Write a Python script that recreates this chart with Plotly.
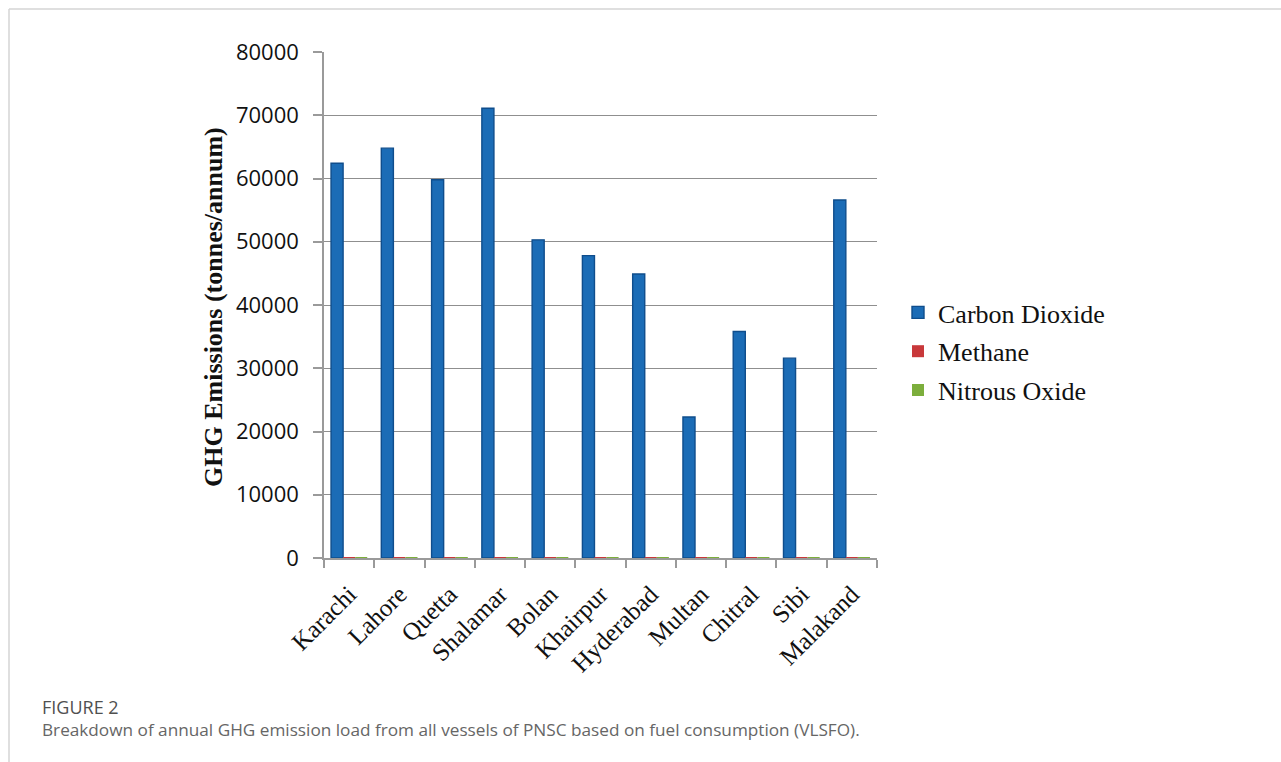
import plotly.graph_objects as go

categories = ["Karachi", "Lahore", "Quetta", "Shalamar", "Bolan", "Khairpur",
              "Hyderabad", "Multan", "Chitral", "Sibi", "Malakand"]
carbon_dioxide = [62400, 64800, 59800, 71100, 50300, 47800, 44900, 22300, 35800, 31600, 56600]
methane = [2.5, 2.6, 2.4, 2.8, 2.0, 1.9, 1.8, 0.9, 1.4, 1.3, 2.3]
nitrous_oxide = [3.2, 3.3, 3.1, 3.7, 2.6, 2.5, 2.3, 1.2, 1.9, 1.6, 2.9]
y_ticks = [0, 10000, 20000, 30000, 40000, 50000, 60000, 70000, 80000]

W, H = 1281, 762
L, R, T, B = 324, 877, 52, 558


def px(x):
    return (x - L) / (R - L)


def py(y):
    return (B - y) / (B - T)


fig = go.Figure()
fig.add_trace(go.Bar(name="Carbon Dioxide", x=categories, y=carbon_dioxide, legendgroup="a",
                     marker=dict(color="#1b6cb6", line=dict(color="#0f4d8c", width=1.4))))
fig.add_trace(go.Bar(name="Methane", x=categories, y=methane, legendgroup="b",
                     marker=dict(color="#c8383a", line=dict(color="#8e2022", width=0))))
fig.add_trace(go.Bar(name="Nitrous Oxide", x=categories, y=nitrous_oxide, legendgroup="c",
                     marker=dict(color="#7cae3c", line=dict(color="#557d25", width=0))))

serif = "Liberation Serif, Times New Roman, serif"
sans = "Open Sans, sans-serif"

fig.update_layout(
    width=W, height=H,
    margin=dict(l=L, r=W - R, t=T, b=H - B, autoexpand=False),
    paper_bgcolor="white", plot_bgcolor="white",
    barmode="group", bargap=0.28, bargroupgap=0,
    showlegend=True,
    legend=dict(x=px(898), y=py(289), xanchor="left", yanchor="top",
                font=dict(family=serif, size=26, color="#111"),
                bgcolor="rgba(0,0,0,0)", tracegroupgap=2, itemwidth=30,
                traceorder="grouped"),
    xaxis=dict(showgrid=False, showline=True, linecolor="#9a9a9a", linewidth=1.5,
               ticks="outside", tickson="boundaries", ticklen=8, tickcolor="#9a9a9a",
               tickwidth=1.5, tickangle=-45, ticklabelstandoff=10,
               tickfont=dict(family=serif, size=25, color="#111")),
    yaxis=dict(range=[0, 80000], tickvals=y_ticks, tickformat="d", showgrid=True,
               gridcolor="#8f8f8f", gridwidth=1.2, zeroline=False, showline=True,
               linecolor="#9a9a9a", linewidth=1.5, ticks="outside", ticklen=9,
               tickcolor="#9a9a9a", tickwidth=1.5, ticklabelstandoff=10,
               tickfont=dict(family=sans, size=22, color="#111")),
)

# axis title placed to match the reference position
fig.add_annotation(xref="paper", yref="paper", x=px(213), y=py(307), xanchor="center",
                   yanchor="middle", textangle=-90, showarrow=False,
                   text="<b>GHG Emissions (tonnes/annum)</b>",
                   font=dict(family=serif, size=26, color="#111"))

# frame lines of the figure panel
fig.add_shape(type="line", xref="paper", yref="paper", x0=px(9), x1=px(1281), y0=py(9), y1=py(9),
              line=dict(color="#d4d4d4", width=1.5))
fig.add_shape(type="line", xref="paper", yref="paper", x0=px(9), x1=px(9), y0=py(9), y1=py(762),
              line=dict(color="#d4d4d4", width=1.5))

fig.add_annotation(xref="paper", yref="paper", x=px(40), y=py(707), xanchor="left", yanchor="middle",
                   text="FIGURE 2", showarrow=False,
                   font=dict(family=sans, size=18, color="#505050"))
fig.add_annotation(xref="paper", yref="paper", x=px(40), y=py(729), xanchor="left", yanchor="middle",
                   text="Breakdown of annual GHG emission load from all vessels of PNSC based on fuel consumption (VLSFO).",
                   showarrow=False, font=dict(family=sans, size=17.2, color="#666666"))

fig.write_html("out.html")
